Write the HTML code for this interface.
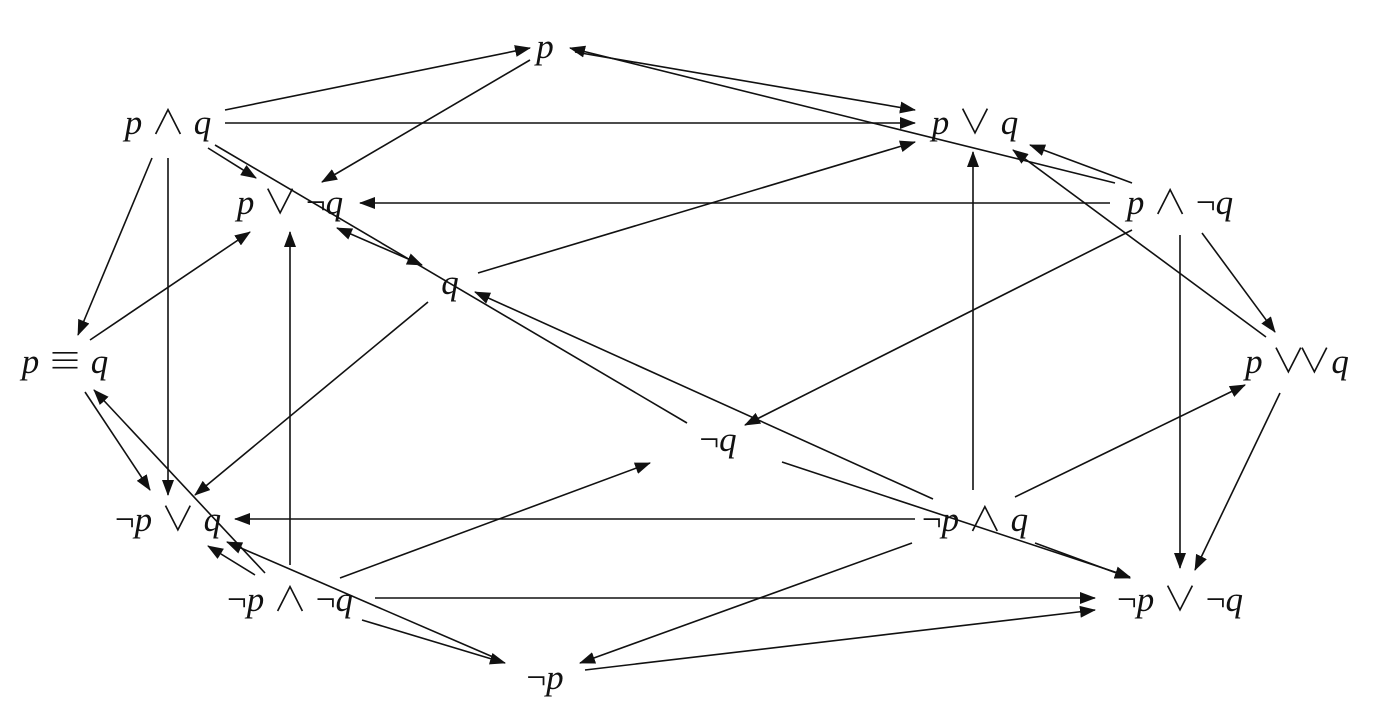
<!DOCTYPE html>
<html><head><meta charset="utf-8"><style>
html,body{margin:0;padding:0;background:#fff;}
svg{display:block;}
text{font-family:"Liberation Serif","DejaVu Serif",serif;font-size:35px;fill:#111;}
.i{font-style:italic;}
.o{font-family:"Noto Sans CJK JP","DejaVu Sans",sans-serif;font-weight:300;font-size:34px;}
</style></head><body>
<svg width="1382" height="721" viewBox="0 0 1382 721" xmlns="http://www.w3.org/2000/svg">
<defs>
<marker id="a" markerWidth="16" markerHeight="12" refX="15" refY="6" orient="auto" markerUnits="userSpaceOnUse">
<path d="M0,0 L16,6 L0,12 Z" fill="#111"/>
</marker>
<marker id="s" markerWidth="16" markerHeight="12" refX="1" refY="6" orient="auto" markerUnits="userSpaceOnUse">
<path d="M16,0 L0,6 L16,12 Z" fill="#111"/>
</marker>
</defs>
<g stroke="#111" stroke-width="1.6" fill="none" marker-end="url(#a)">
<line x1="225" y1="110" x2="530" y2="48"/>
<line x1="225" y1="123" x2="915" y2="123"/>
<line x1="575" y1="52" x2="915" y2="110"/>
<line x1="1115" y1="183" x2="570" y2="48"/>
<line x1="530" y1="60" x2="322" y2="182"/>
<line x1="208" y1="148" x2="256" y2="178"/>
<line x1="152" y1="158" x2="78" y2="335"/>
<line x1="168" y1="158" x2="168" y2="495"/>
<line x1="1132" y1="183" x2="1030" y2="145"/>
<line x1="1110" y1="203" x2="360" y2="203"/>
<line x1="1132" y1="230" x2="745" y2="425"/>
<line x1="1202" y1="233" x2="1275" y2="332"/>
<line x1="1180" y1="235" x2="1180" y2="568"/>
<line x1="1266" y1="337" x2="1013" y2="150"/>
<line x1="1280" y1="393" x2="1195" y2="570"/>
<line x1="973" y1="490" x2="973" y2="152"/>
<line x1="1015" y1="497" x2="1245" y2="385"/>
<line x1="933" y1="499" x2="475" y2="292"/>
<line x1="915" y1="519" x2="235" y2="519"/>
<line x1="912" y1="543" x2="580" y2="663"/>
<line x1="782" y1="462" x2="1130" y2="577"/>
<line x1="1035" y1="543" x2="1130" y2="578"/>
<line x1="478" y1="273" x2="915" y2="142"/>
<line x1="428" y1="302" x2="195" y2="495"/>
<line x1="90" y1="340" x2="250" y2="232"/>
<line x1="85" y1="392" x2="150" y2="490"/>
<line x1="265" y1="573" x2="94" y2="390"/>
<line x1="255" y1="575" x2="208" y2="546"/>
<line x1="290" y1="565" x2="290" y2="232"/>
<line x1="340" y1="578" x2="650" y2="463"/>
<line x1="375" y1="598" x2="1095" y2="598"/>
<line x1="362" y1="620" x2="505" y2="663"/>
<line x1="585" y1="670" x2="1095" y2="610"/>
<line x1="500" y1="660" x2="227" y2="542"/>
<line x1="337" y1="228" x2="422" y2="265" marker-start="url(#s)"/>
</g>
<line x1="215" y1="145" x2="687" y2="423" stroke="#111" stroke-width="1.6"/>
<g text-anchor="middle">
<text x="545" y="58" class="i">p</text>
<text x="168" y="134"><tspan class="i">p</tspan> <tspan class="o">∧</tspan> <tspan class="i">q</tspan></text>
<text x="975" y="134"><tspan class="i">p</tspan> <tspan class="o">∨</tspan> <tspan class="i">q</tspan></text>
<text x="290" y="214"><tspan class="i">p</tspan> <tspan class="o">∨</tspan> ¬<tspan class="i">q</tspan></text>
<text x="1180" y="214"><tspan class="i">p</tspan> <tspan class="o">∧</tspan> ¬<tspan class="i">q</tspan></text>
<text x="450" y="294" class="i">q</text>
<text x="65" y="373"><tspan class="i">p</tspan> <tspan class="o">≡</tspan> <tspan class="i">q</tspan></text>
<text x="1297" y="373"><tspan class="i">p</tspan> <tspan class="o">∨</tspan><tspan class="o" dx="-8">∨</tspan><tspan class="i">q</tspan></text>
<text x="718" y="451">¬<tspan class="i">q</tspan></text>
<text x="168" y="531">¬<tspan class="i">p</tspan> <tspan class="o">∨</tspan> <tspan class="i">q</tspan></text>
<text x="975" y="531">¬<tspan class="i">p</tspan> <tspan class="o">∧</tspan> <tspan class="i">q</tspan></text>
<text x="290" y="611">¬<tspan class="i">p</tspan> <tspan class="o">∧</tspan> ¬<tspan class="i">q</tspan></text>
<text x="1180" y="611">¬<tspan class="i">p</tspan> <tspan class="o">∨</tspan> ¬<tspan class="i">q</tspan></text>
<text x="545" y="689">¬<tspan class="i">p</tspan></text>
</g>
</svg>
</body></html>
